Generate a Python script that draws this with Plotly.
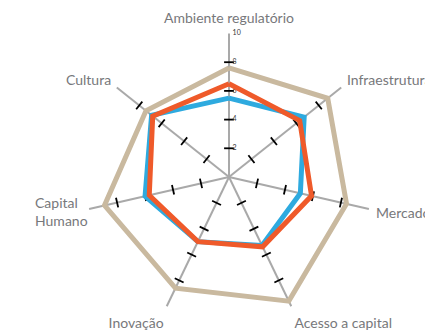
import plotly.graph_objects as go

categories = ['Ambiente regulatório', 'Infraestrutura', 'Mercado', 'Acesso a capital',
              'Inovação', 'Capital<br>Humano', 'Cultura']
tan_values = [7.6, 8.8, 8.4, 9.6, 8.6, 8.9, 7.4]
blue_values = [5.5, 6.7, 5.1, 5.3, 5.0, 6.0, 6.9]
orange_values = [6.5, 6.3, 5.9, 5.4, 5.0, 5.7, 6.8]
tick_values = [2, 4, 6, 8]
scale_labels = [2, 4, 6, 8, 10]

n = len(categories)
angles = [i * 360 / n for i in range(n)]

fig = go.Figure()

# small tick marks on every spoke
tr, tt, ta = [], [], []
for a in angles:
    for v in tick_values:
        tr.append(v)
        tt.append(a)
        ta.append(a)
fig.add_trace(go.Scatterpolar(
    r=tr, theta=tt, mode='markers',
    marker=dict(symbol='line-ew', size=7, angle=ta,
                line=dict(color='black', width=1.8)),
    hoverinfo='skip', showlegend=False
))

# scale numbers next to the top spoke
fig.add_trace(go.Scatterpolar(
    r=scale_labels, theta=[0] * len(scale_labels), mode='text',
    text=['\u00a0\u00a0' + str(v) for v in scale_labels], textposition='middle right',
    textfont=dict(size=7, color='#333333'),
    hoverinfo='skip', showlegend=False
))


def closed(vals):
    return vals + vals[:1]


for vals, col in [(tan_values, '#c9b99f'), (blue_values, '#2eaadf'), (orange_values, '#ef5a2a')]:
    fig.add_trace(go.Scatterpolar(
        r=closed(vals), theta=closed(angles), mode='lines',
        line=dict(color=col, width=5),
        hoverinfo='skip', showlegend=False
    ))

# left-aligned two-line label drawn separately
ticktext = [c if '<br>' not in c else '' for c in categories]
fig.add_annotation(text=categories[5], xref='paper', yref='paper',
                   x=33 / 425, y=1 - 211 / 334, xanchor='left', yanchor='middle',
                   align='left', showarrow=False,
                   font=dict(size=14, color='#77787b'))

fig.update_layout(
    width=425, height=334,
    margin=dict(l=0, r=0, t=0, b=0),
    paper_bgcolor='white',
    font=dict(family='Lato', color='#77787b', size=14),
    polar=dict(
        domain=dict(x=[85.5 / 425, 372.5 / 425], y=[13.5 / 334, 300.5 / 334]),
        bgcolor='white',
        radialaxis=dict(range=[0, 10], showgrid=False, showline=False,
                        showticklabels=False, ticks=''),
        angularaxis=dict(direction='clockwise', rotation=90,
                         tickvals=angles, ticktext=ticktext,
                         showline=False, gridcolor='#a9a9a9', gridwidth=2,
                         ticks='outside', ticklen=4, tickcolor='rgba(0,0,0,0)',
                         tickfont=dict(size=14, color='#77787b')),
    ),
)

fig.write_html("out.html", config={'displayModeBar': False},
               post_script="document.body.style.margin='0';")
